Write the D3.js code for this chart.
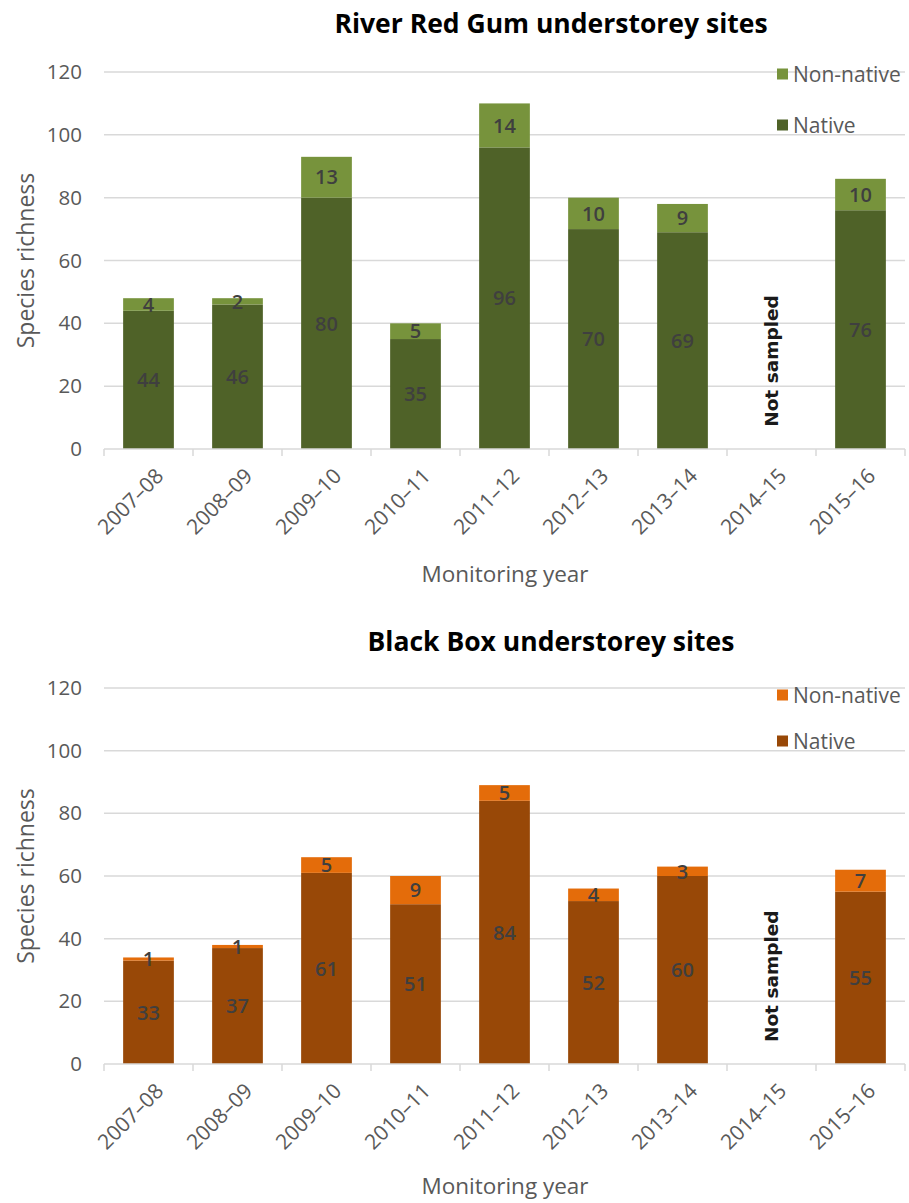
<!DOCTYPE html>
<html>
<head>
<meta charset="utf-8">
<script src="https://cdn.jsdelivr.net/npm/d3@7"></script>
<style>
  html, body { margin: 0; padding: 0; background: #ffffff; }
  svg { display: block; }
</style>
</head>
<body>
<svg id="chart" width="909" height="1203"></svg>
<script>
// Monitoring years shared by both panels
const years = ["2007–08", "2008–09", "2009–10", "2010–11", "2011–12", "2012–13", "2013–14", "2014–15", "2015–16"];
const yTicks = [0, 20, 40, 60, 80, 100, 120];

// River Red Gum understorey (null = not sampled)
const redGumNative    = [44, 46, 80, 35, 96, 70, 69, null, 76];
const redGumNonNative = [4, 2, 13, 5, 14, 10, 9, null, 10];

// Black Box understorey (null = not sampled)
const blackBoxNative    = [33, 37, 61, 51, 84, 52, 60, null, 55];
const blackBoxNonNative = [1, 1, 5, 9, 5, 4, 3, null, 7];

const notSampledAt = 28; // vertical centre of the "Not sampled" note, in species

const svg = d3.select("#chart");
const labelFont = "'Open Sans', 'Noto Sans', sans-serif";
const grey = "#595959";

function panel(cfg) {
  const g = svg.append("g");
  const x = d3.scaleBand().domain(years).range([104, 905]).paddingInner(0.43).paddingOuter(0.215);
  const y = d3.scaleLinear().domain([0, 120]).range([cfg.bottom, cfg.top]);

  // title
  g.append("text")
    .attr("x", 551).attr("y", cfg.titleY)
    .attr("text-anchor", "middle")
    .attr("font-family", labelFont)
    .attr("font-weight", "bold")
    .attr("font-size", 26.5)
    .attr("fill", "#000")
    .text(cfg.title);

  // horizontal gridlines
  g.append("g").selectAll("line").data(yTicks.filter(t => t > 0)).join("line")
    .attr("x1", 104).attr("x2", 905)
    .attr("y1", d => y(d)).attr("y2", d => y(d))
    .attr("stroke", "#d9d9d9").attr("stroke-width", 1.5);

  // y axis tick labels
  const yAxis = d3.axisLeft(y).tickValues(yTicks).tickSize(0).tickPadding(0);
  const ya = g.append("g").attr("transform", "translate(82,0)").call(yAxis);
  ya.select(".domain").remove();
  ya.selectAll("text")
    .attr("font-family", labelFont).attr("font-size", 20.5).attr("fill", grey);

  // bars: native at the base, non-native stacked on top
  const rows = years.map((yr, i) => ({ year: yr, native: cfg.native[i], non: cfg.nonNative[i] }))
    .filter(d => d.native != null);

  g.append("g").selectAll("rect").data(rows).join("rect")
    .attr("x", d => x(d.year)).attr("width", x.bandwidth())
    .attr("y", d => y(d.native)).attr("height", d => y(0) - y(d.native))
    .attr("fill", cfg.nativeColor);

  g.append("g").selectAll("rect").data(rows).join("rect")
    .attr("x", d => x(d.year)).attr("width", x.bandwidth())
    .attr("y", d => y(d.native + d.non)).attr("height", d => y(d.native) - y(d.native + d.non))
    .attr("fill", cfg.nonColor);

  // baseline and category boundary ticks
  g.append("line")
    .attr("x1", 104).attr("x2", 905).attr("y1", y(0)).attr("y2", y(0))
    .attr("stroke", "#d9d9d9").attr("stroke-width", 1.5);
  const bounds = d3.range(years.length + 1).map(i => x.range()[0] + i * x.step());
  g.append("g").selectAll("line").data(bounds).join("line")
    .attr("x1", d => d).attr("x2", d => d)
    .attr("y1", y(0)).attr("y2", y(0) + 7)
    .attr("stroke", "#d9d9d9").attr("stroke-width", 1.5);

  // value labels
  const valStyle = sel => sel
    .attr("text-anchor", "middle").attr("dy", "0.36em")
    .attr("font-family", labelFont)
    .attr("font-weight", 600).attr("font-size", 20)
    .attr("fill", "#3f3f3f");
  g.append("g").selectAll("text").data(rows).join("text")
    .attr("x", d => x(d.year) + x.bandwidth() / 2)
    .attr("y", d => y(d.native / 2))
    .text(d => d.native).call(valStyle);
  g.append("g").selectAll("text").data(rows).join("text")
    .attr("x", d => x(d.year) + x.bandwidth() / 2)
    .attr("y", d => y(d.native + d.non / 2))
    .text(d => d.non).call(valStyle);

  // note for the unsampled year
  years.forEach((yr, i) => {
    if (cfg.native[i] == null) {
      g.append("text")
        .attr("transform", `translate(${x(yr) + x.bandwidth() / 2},${y(notSampledAt)}) rotate(-90)`)
        .attr("text-anchor", "middle").attr("dy", "0.35em")
        .attr("font-family", "'DejaVu Sans', Verdana, sans-serif")
        .attr("font-weight", "bold").attr("font-size", 18.5)
        .attr("fill", "#1a1a1a")
        .text("Not sampled");
    }
  });

  // x tick labels, rotated
  g.append("g").selectAll("text").data(years).join("text")
    .attr("transform", d => `translate(${x(d) + x.bandwidth() / 2 + 11},${y(0) + 23}) rotate(-45)`)
    .attr("text-anchor", "end").attr("dy", "0.36em")
    .attr("font-family", labelFont).attr("font-size", 21).attr("fill", grey)
    .text(d => d);

  // axis titles
  g.append("text")
    .attr("x", 505).attr("y", cfg.xTitleY)
    .attr("text-anchor", "middle")
    .attr("font-family", labelFont).attr("font-size", 22.5).attr("fill", grey)
    .text("Monitoring year");
  g.append("text")
    .attr("transform", `translate(26,${y(60)}) rotate(-90)`)
    .attr("text-anchor", "middle").attr("dy", "0.35em")
    .attr("font-family", labelFont).attr("font-size", 23).attr("fill", grey)
    .text("Species richness");

  // legend
  const legend = [
    { label: "Non-native", color: cfg.nonColor, y: cfg.legendY[0] },
    { label: "Native", color: cfg.nativeColor, y: cfg.legendY[1] }
  ];
  const lg = g.append("g").selectAll("g").data(legend).join("g")
    .attr("transform", d => `translate(777,${d.y})`);
  lg.append("rect").attr("x", 0).attr("y", -5.5).attr("width", 11).attr("height", 11)
    .attr("fill", d => d.color);
  lg.append("text").attr("x", 16).attr("dy", "0.36em")
    .attr("font-family", labelFont).attr("font-size", 21).attr("fill", grey)
    .text(d => d.label);
}

panel({
  title: "River Red Gum understorey sites",
  titleY: 33, top: 72, bottom: 449, xTitleY: 582,
  native: redGumNative, nonNative: redGumNonNative,
  nativeColor: "#4f6228", nonColor: "#77933c",
  legendY: [74, 125]
});

panel({
  title: "Black Box understorey sites",
  titleY: 651, top: 688, bottom: 1064, xTitleY: 1194,
  native: blackBoxNative, nonNative: blackBoxNonNative,
  nativeColor: "#984807", nonColor: "#e46c0a",
  legendY: [695, 741]
});
</script>
</body>
</html>
